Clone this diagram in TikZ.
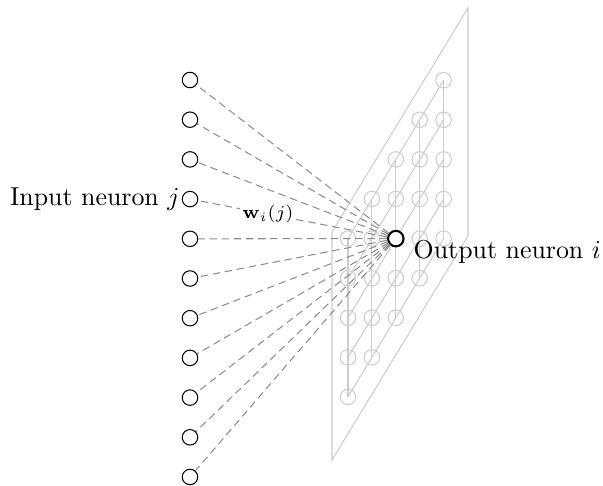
\documentclass[tikz,border=0pt]{standalone}
\usepackage{amsmath}

\begin{document}
\begin{tikzpicture}[
    x=0.0136cm, y=-0.0136cm,
    neuron/.style={circle, draw=black, inner sep=0pt, minimum size=6pt},
    unit/.style={circle, draw=black!20, inner sep=0pt, minimum size=6pt},
    lattice/.style={draw=black!20},
    weight/.style={draw=black!45, dash pattern=on 2.9pt off 1.8pt},
    winner/.style={neuron, thick, fill=white}
]
\useasboundingbox (0,0) rectangle (603,485);

% Output plane
\draw[lattice] (332,460) -- (468,236) -- (468,8) -- (332,232) -- cycle;

% Output map (5x5)
\foreach \c in {0,...,4}
  \foreach \r in {0,...,4}
    \node[unit] (u\c\r) at (348+23.9*\c, 397-39.6*\c-39.6*\r) {};
\foreach \c in {0,...,4}
  \draw[lattice] (u\c0.center) -- (u\c4.center);
\foreach \r in {0,...,4}
  \draw[lattice] (u0\r.center) -- (u4\r.center);

% Winning output neuron
\node[winner] (out) at (u22) {};

% Input layer
\foreach \k in {0,...,10}
  \node[neuron] (in\k) at (190, 80+39.7*\k) {};

% Weights
\foreach \k in {0,...,10}
  \draw[weight] (out) -- (in\k);
\path (in3) -- node[pos=0.37, fill=white, inner sep=1pt, font=\scriptsize] (wij) {$\mathbf{w}_i(j)$} (out);

% Labels
\node[anchor=east, xshift=2.7pt] (inlabel) at (in3.west) {Input neuron $j$};
\node[anchor=west, yshift=-5pt] (outlabel) at (out.east) {Output neuron $i$};

\end{tikzpicture}
\end{document}
